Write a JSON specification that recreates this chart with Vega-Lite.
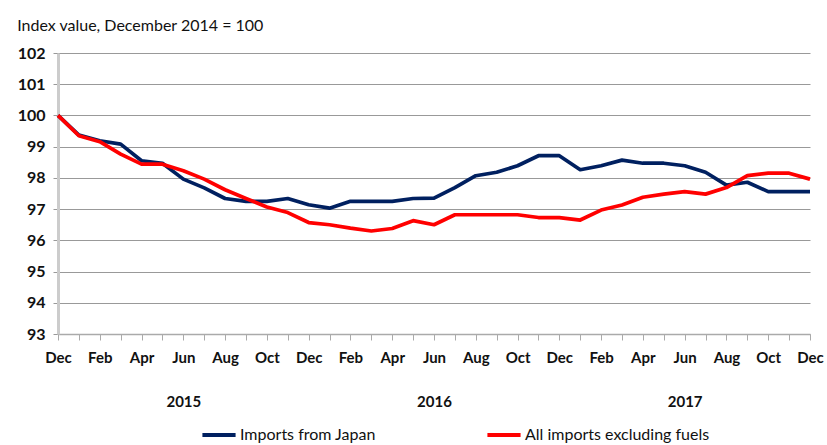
{
  "$schema": "https://vega.github.io/schema/vega-lite/v6.json",
  "width": 752,
  "height": 281,
  "padding": {"left": 17, "top": 18, "right": 8, "bottom": 0},
  "background": "white",
  "title": {
    "text": "Index value, December 2014 = 100",
    "anchor": "start",
    "frame": "bounds",
    "font": "Lato",
    "fontSize": 16,
    "fontWeight": "normal",
    "color": "#111",
    "offset": 11
  },
  "config": {
    "view": {"stroke": null},
    "font": "Lato"
  },
  "datasets": {
    "series": [
      {"m": "2014-12", "s": "Imports from Japan", "v": 100.0},
      {"m": "2015-01", "s": "Imports from Japan", "v": 99.37},
      {"m": "2015-02", "s": "Imports from Japan", "v": 99.19},
      {"m": "2015-03", "s": "Imports from Japan", "v": 99.08},
      {"m": "2015-04", "s": "Imports from Japan", "v": 98.55},
      {"m": "2015-05", "s": "Imports from Japan", "v": 98.47},
      {"m": "2015-06", "s": "Imports from Japan", "v": 97.96},
      {"m": "2015-07", "s": "Imports from Japan", "v": 97.68},
      {"m": "2015-08", "s": "Imports from Japan", "v": 97.34},
      {"m": "2015-09", "s": "Imports from Japan", "v": 97.25},
      {"m": "2015-10", "s": "Imports from Japan", "v": 97.25},
      {"m": "2015-11", "s": "Imports from Japan", "v": 97.34},
      {"m": "2015-12", "s": "Imports from Japan", "v": 97.14},
      {"m": "2016-01", "s": "Imports from Japan", "v": 97.03},
      {"m": "2016-02", "s": "Imports from Japan", "v": 97.25},
      {"m": "2016-03", "s": "Imports from Japan", "v": 97.25},
      {"m": "2016-04", "s": "Imports from Japan", "v": 97.25},
      {"m": "2016-05", "s": "Imports from Japan", "v": 97.34},
      {"m": "2016-06", "s": "Imports from Japan", "v": 97.35},
      {"m": "2016-07", "s": "Imports from Japan", "v": 97.69},
      {"m": "2016-08", "s": "Imports from Japan", "v": 98.07},
      {"m": "2016-09", "s": "Imports from Japan", "v": 98.18},
      {"m": "2016-10", "s": "Imports from Japan", "v": 98.39},
      {"m": "2016-11", "s": "Imports from Japan", "v": 98.71},
      {"m": "2016-12", "s": "Imports from Japan", "v": 98.71},
      {"m": "2017-01", "s": "Imports from Japan", "v": 98.26},
      {"m": "2017-02", "s": "Imports from Japan", "v": 98.39},
      {"m": "2017-03", "s": "Imports from Japan", "v": 98.57},
      {"m": "2017-04", "s": "Imports from Japan", "v": 98.47},
      {"m": "2017-05", "s": "Imports from Japan", "v": 98.47},
      {"m": "2017-06", "s": "Imports from Japan", "v": 98.39},
      {"m": "2017-07", "s": "Imports from Japan", "v": 98.18},
      {"m": "2017-08", "s": "Imports from Japan", "v": 97.77},
      {"m": "2017-09", "s": "Imports from Japan", "v": 97.86},
      {"m": "2017-10", "s": "Imports from Japan", "v": 97.56},
      {"m": "2017-11", "s": "Imports from Japan", "v": 97.56},
      {"m": "2017-12", "s": "Imports from Japan", "v": 97.56},
      {"m": "2014-12", "s": "All imports excluding fuels", "v": 100.0},
      {"m": "2015-01", "s": "All imports excluding fuels", "v": 99.35},
      {"m": "2015-02", "s": "All imports excluding fuels", "v": 99.16},
      {"m": "2015-03", "s": "All imports excluding fuels", "v": 98.76},
      {"m": "2015-04", "s": "All imports excluding fuels", "v": 98.44},
      {"m": "2015-05", "s": "All imports excluding fuels", "v": 98.44},
      {"m": "2015-06", "s": "All imports excluding fuels", "v": 98.23},
      {"m": "2015-07", "s": "All imports excluding fuels", "v": 97.96},
      {"m": "2015-08", "s": "All imports excluding fuels", "v": 97.62},
      {"m": "2015-09", "s": "All imports excluding fuels", "v": 97.34},
      {"m": "2015-10", "s": "All imports excluding fuels", "v": 97.07},
      {"m": "2015-11", "s": "All imports excluding fuels", "v": 96.89},
      {"m": "2015-12", "s": "All imports excluding fuels", "v": 96.57},
      {"m": "2016-01", "s": "All imports excluding fuels", "v": 96.5},
      {"m": "2016-02", "s": "All imports excluding fuels", "v": 96.39},
      {"m": "2016-03", "s": "All imports excluding fuels", "v": 96.3},
      {"m": "2016-04", "s": "All imports excluding fuels", "v": 96.38},
      {"m": "2016-05", "s": "All imports excluding fuels", "v": 96.63},
      {"m": "2016-06", "s": "All imports excluding fuels", "v": 96.5},
      {"m": "2016-07", "s": "All imports excluding fuels", "v": 96.82},
      {"m": "2016-08", "s": "All imports excluding fuels", "v": 96.82},
      {"m": "2016-09", "s": "All imports excluding fuels", "v": 96.82},
      {"m": "2016-10", "s": "All imports excluding fuels", "v": 96.82},
      {"m": "2016-11", "s": "All imports excluding fuels", "v": 96.73},
      {"m": "2016-12", "s": "All imports excluding fuels", "v": 96.73},
      {"m": "2017-01", "s": "All imports excluding fuels", "v": 96.65},
      {"m": "2017-02", "s": "All imports excluding fuels", "v": 96.97},
      {"m": "2017-03", "s": "All imports excluding fuels", "v": 97.13},
      {"m": "2017-04", "s": "All imports excluding fuels", "v": 97.38},
      {"m": "2017-05", "s": "All imports excluding fuels", "v": 97.48},
      {"m": "2017-06", "s": "All imports excluding fuels", "v": 97.56},
      {"m": "2017-07", "s": "All imports excluding fuels", "v": 97.48},
      {"m": "2017-08", "s": "All imports excluding fuels", "v": 97.69},
      {"m": "2017-09", "s": "All imports excluding fuels", "v": 98.07},
      {"m": "2017-10", "s": "All imports excluding fuels", "v": 98.15},
      {"m": "2017-11", "s": "All imports excluding fuels", "v": 98.15},
      {"m": "2017-12", "s": "All imports excluding fuels", "v": 97.96}
    ]
  },
  "data": {"name": "series"},
  "mark": {"type": "line", "strokeWidth": 3.7, "strokeJoin": "round"},
  "encoding": {
    "x": {
      "field": "m",
      "type": "ordinal",
      "sort": "ascending",
      "scale": {"type": "point", "padding": 0},
      "axis": {
        "title": null,
        "labelAngle": 0,
        "labelFont": "Lato",
        "labelFontSize": 15,
        "labelFontWeight": "bold",
        "labelColor": "#111",
        "labelPadding": 10,
        "labelLineHeight": 44,
        "labelOverlap": false,
        "labelBound": false,
        "ticks": true,
        "tickSize": 6,
        "tickColor": "#aaa",
        "domainColor": "#aaa",
        "domainWidth": 1.5,
        "grid": false,
        "labelExpr": "toNumber(substring(datum.value,5,7)) % 2 == 1 ? '' : (toNumber(substring(datum.value,5,7)) == 6 ? ['Jun', substring(datum.value,0,4)] : ['Jan','Feb','Mar','Apr','May','Jun','Jul','Aug','Sep','Oct','Nov','Dec'][toNumber(substring(datum.value,5,7)) - 1])"
      }
    },
    "y": {
      "field": "v",
      "type": "quantitative",
      "scale": {"domain": [93, 102], "zero": false, "nice": false},
      "axis": {
        "title": null,
        "values": [93, 94, 95, 96, 97, 98, 99, 100, 101, 102],
        "labelFont": "Lato",
        "labelFontSize": 16,
        "labelFontWeight": "bold",
        "labelColor": "#111",
        "labelPadding": 8,
        "tickSize": 5,
        "tickColor": "#999",
        "domainColor": "#ccc",
        "domainWidth": 3,
        "grid": true,
        "gridColor": "#999",
        "gridWidth": 1
      }
    },
    "color": {
      "field": "s",
      "type": "nominal",
      "sort": ["Imports from Japan", "All imports excluding fuels"],
      "scale": {"domain": ["Imports from Japan", "All imports excluding fuels"], "range": ["#002060", "#ff0000"]},
      "legend": {
        "title": null,
        "orient": "none",
        "legendX": 142,
        "legendY": 363,
        "direction": "horizontal",
        "symbolType": "stroke",
        "symbolStrokeWidth": 4,
        "symbolSize": 1100,
        "labelFont": "Lato",
        "labelFontSize": 16,
        "labelColor": "#111",
        "labelLimit": 300,
        "labelOffset": 2,
        "columnPadding": 103
      }
    }
  }
}
